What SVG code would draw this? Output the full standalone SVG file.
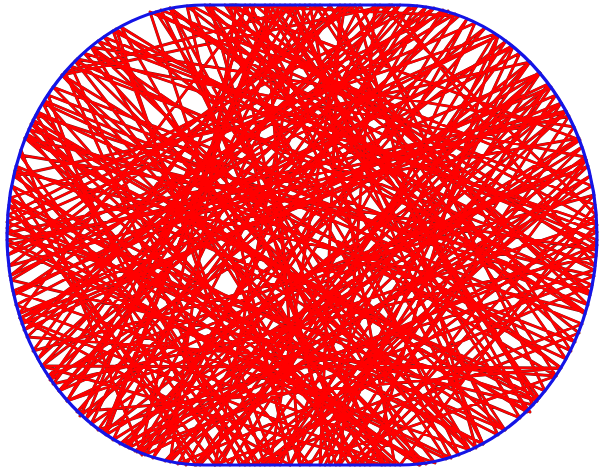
<svg xmlns="http://www.w3.org/2000/svg" width="604" height="471" viewBox="0 0 604 471">
<style>
.rim{fill:none;stroke:#7a2222;stroke-width:2.9;stroke-linejoin:round;stroke-linecap:round}
.ray{fill:none;stroke:#ff0000;stroke-width:2.2;stroke-linejoin:round;stroke-linecap:round}
.wall{fill:none;stroke:#1414e6;stroke-width:3.2}
</style>
<defs>
<polyline id="pathA" points="230,5 330,465 561,103 91,424 300,5 527,412 33,120 260,465 596,215 380,5 153,458 467,19 220,465 43,103 571,351 350,5 10,276 498,36 370,465 121,27 585,314 187,6 290,465 551,87 19,314 250,5 483,444 8,215 417,6 137,452 590,176 240,465 65,72 310,5 395,465 25,138 539,398 270,5 106,435 579,138 7,240 451,458 210,5 596,256 53,384 340,5 320,465 513,47 14,295 434,8 77,412 561,368 91,47 350,465 594,195 33,351 290,5 498,435 12,186 200,465 539,72 170,462 236,5 590,295 53,87 426,464 7,228 475,23 280,465 16,166 545,391 360,5 129,448 592,186 161,10 385,465 38,112 566,359 320,5 113,440 582,147 255,465 71,66 595,266 392,5 59,391 506,41 215,465 9,205 520,418 265,5 300,465 556,95 22,324 443,10 145,455 597,232 98,41 470,450 205,5 575,342 29,129 360,465 586,160 67,401 330,5 533,405 11,280 455,14 186,465 48,95 588,305 280,5 80,416 530,62 245,465 20,155 596,250 156,12 446,459 8,245 569,116 340,465 375,5 42,366 485,28 125,446 580,140 225,5 505,430 27,134 310,465 548,84 24,330 400,5 98,430 594,270 113,31 275,465 540,73 50,380 315,5 556,376 62,75 420,465 10,198 495,34 230,465 15,171 585,312 170,8 355,465 597,225 84,53 459,455 245,5 140,453 566,111 7,233 537,401 285,5 38,359 426,7 178,464 592,285 75,61 390,465 20,318 520,53 325,465"/>
<polyline id="pathB" points="305,5 215,465 582,324 45,101 365,465 597,240 104,37 435,463 16,305 512,46 195,465 566,112 9,266 345,5 270,465 588,166 48,376 459,16 232,5 530,412 31,124 400,465 595,205 150,12 300,465 556,376 27,337 390,5 62,75 470,450 13,291 540,73 120,444 597,245 210,5 336,465 574,127 91,47 505,430 7,222 448,11 86,419 255,5 590,292 36,115 250,465 579,333 170,8 419,465 14,176 530,62 165,461 585,157 77,59 476,448 355,5 8,255 498,36 290,465 20,318 561,103 135,451 594,276 25,138 537,401 274,5 104,432 549,86 196,465 10,198 483,444 295,5 67,401 596,222 192,6 382,465 42,366 561,368 116,29 265,465 586,160 59,391 410,6 142,455 21,150"/>
</defs>
<rect width="604" height="471" fill="#ffffff"/>
<g id="trajectory">
<use href="#pathA" class="rim"/>
<use href="#pathB" class="rim"/>
<use href="#pathA" class="ray"/>
<use href="#pathB" class="ray"/>
</g>
<g id="stadium">
<path class="wall" d="M204 5 L400 5 A197 230 0 0 1 400 465 L204 465 A197 230 0 0 1 204 5 Z"/>
</g>
</svg>
